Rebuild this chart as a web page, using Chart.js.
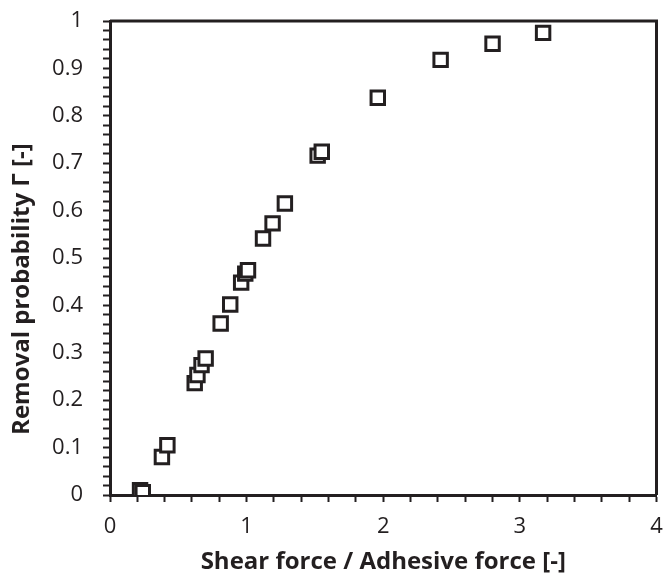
<!DOCTYPE html>
<html>
<head>
<meta charset="utf-8">
<script src="https://cdn.jsdelivr.net/npm/chart.js@4"></script>
<style>
  html, body { margin: 0; padding: 0; background: #fff; }
  #wrap { width: 669px; height: 581px; }
</style>
</head>
<body>
<div id="wrap"><canvas id="removalChart"></canvas></div>
<script>
// data
const forceRatio = [0.22, 0.24, 0.38, 0.42, 0.62, 0.64, 0.67, 0.70, 0.81, 0.88, 0.96, 0.99, 1.01, 1.12, 1.19, 1.28, 1.52, 1.55, 1.96, 2.42, 2.80, 3.17];
const removalProb = [0.010, 0.006, 0.080, 0.105, 0.236, 0.253, 0.274, 0.288, 0.362, 0.402, 0.448, 0.467, 0.474, 0.541, 0.573, 0.615, 0.716, 0.724, 0.838, 0.918, 0.952, 0.975];
const xTitle = 'Shear force / Adhesive force [-]';
// trailing spaces push the title down a little, like in the original
const yTitle = 'Removal probability \u0393 [-]' + '\u00a0'.repeat(10);

const ink = '#231f20';
const font = '"Open Sans", Lato, sans-serif';

// box around the plot area (top and right edges)
const frame = {
    id: 'frame',
    afterDatasetsDraw(chart) {
        const a = chart.chartArea, ctx = chart.ctx;
        ctx.save();
        ctx.strokeStyle = ink;
        ctx.lineWidth = 3;
        ctx.beginPath();
        ctx.moveTo(a.left, a.top);
        ctx.lineTo(a.right, a.top);
        ctx.lineTo(a.right, a.bottom);
        ctx.stroke();
        ctx.restore();
    }
};

const points = forceRatio.map((x, i) => ({ x: x, y: removalProb[i] }));

const ctx = document.getElementById('removalChart').getContext('2d');
const removalChart = new Chart(ctx, {
    type: 'scatter',
    data: {
        datasets: [{
            data: points,
            pointStyle: 'rect',
            pointRadius: 9.5,
            pointBorderWidth: 3,
            pointBorderColor: ink,
            pointBackgroundColor: '#fff'
        }]
    },
    options: {
        responsive: true,
        maintainAspectRatio: false,
        animation: false,
        layout: { padding: { top: 21, right: 2, left: 0, bottom: 0 } },
        plugins: { legend: { display: false }, tooltip: { enabled: false } },
        scales: {
            x: {
                type: 'linear',
                min: 0, max: 4,
                afterFit: s => { s.height = 86; s.paddingLeft = 0; s.paddingRight = 0; },
                ticks: {
                    stepSize: 0.2, autoSkip: false, maxRotation: 0,
                    color: ink, font: { family: font, size: 22 }, padding: 12,
                    callback: v => Math.abs(v - Math.round(v)) < 1e-6 ? String(Math.round(v)) : ''
                },
                grid: { drawOnChartArea: false, drawTicks: true, tickLength: 7, tickWidth: 2, tickColor: ink },
                border: { display: true, color: ink, width: 3 },
                title: { display: true, text: xTitle, color: ink, font: { family: font, size: 24, weight: 'bold' }, padding: { top: 0 } }
            },
            y: {
                min: 0, max: 1,
                afterFit: s => { s.width = 110; s.paddingTop = 0; s.paddingBottom = 0; },
                ticks: {
                    stepSize: 0.02, autoSkip: false,
                    color: ink, font: { family: font, size: 22 }, padding: 20,
                    callback: v => Math.abs(v * 10 - Math.round(v * 10)) < 1e-6 ? String(Math.round(v * 10) / 10) : ''
                },
                grid: { drawOnChartArea: false, drawTicks: true, tickLength: 7, tickWidth: 2, tickColor: ink },
                border: { display: true, color: ink, width: 3 },
                title: { display: true, text: yTitle, color: ink, font: { family: font, size: 24, weight: 'bold' }, padding: { top: 8, bottom: 0 } }
            }
        }
    },
    plugins: [frame]
});
</script>
</body>
</html>
